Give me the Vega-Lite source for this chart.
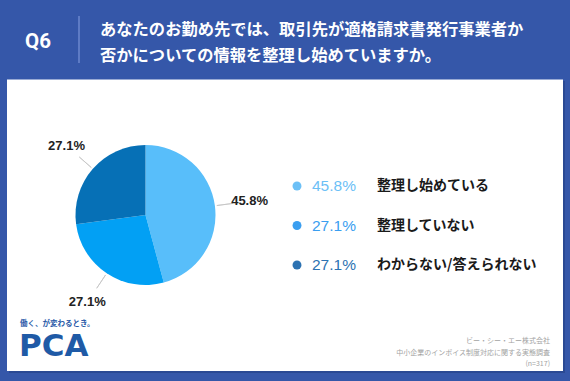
{
  "$schema": "https://vega.github.io/schema/vega-lite/v6.json",
  "width": 570,
  "height": 381,
  "autosize": {"type": "fit", "contains": "padding"},
  "padding": 0,
  "background": "#3557a9",
  "config": {"view": {"stroke": null}, "axis": {"disable": true}, "legend": {"disable": true}},
  "datasets": {
    "answers": [
      {"category": "整理し始めている", "value": 0.458},
      {"category": "整理していない", "value": 0.271},
      {"category": "わからない/答えられない", "value": 0.271}
    ],
    "one": [{}]
  },
  "data": {"name": "answers"},
  "transform": [{"window": [{"op": "row_number", "as": "idx"}]}],
  "resolve": {"scale": {"y": "independent", "color": "independent"}},
  "layer": [
    {
      "data": {"name": "one"},
      "mark": {"type": "rect", "color": "#2a4993"},
      "encoding": {
        "x": {"datum": 9, "type": "quantitative", "scale": {"domain": [0, 570], "nice": false, "zero": false}},
        "x2": {"datum": 565},
        "y": {"datum": 81, "type": "quantitative", "scale": {"domain": [0, 381], "nice": false, "zero": false, "reverse": true}},
        "y2": {"datum": 373}
      }
    },
    {
      "data": {"name": "one"},
      "mark": {"type": "rect", "color": "#ffffff"},
      "encoding": {
        "x": {"datum": 7, "type": "quantitative", "scale": {"domain": [0, 570], "nice": false, "zero": false}},
        "x2": {"datum": 563},
        "y": {"datum": 79.5, "type": "quantitative", "scale": {"domain": [0, 381], "nice": false, "zero": false, "reverse": true}},
        "y2": {"datum": 371}
      }
    },
    {
      "data": {"name": "one"},
      "mark": {"type": "rule", "color": "#7590d4", "strokeWidth": 1.3},
      "encoding": {
        "x": {"datum": 79, "type": "quantitative", "scale": {"domain": [0, 570], "nice": false, "zero": false}},
        "y": {"datum": 16, "type": "quantitative", "scale": {"domain": [0, 381], "nice": false, "zero": false, "reverse": true}},
        "y2": {"datum": 63}
      }
    },
    {
      "data": {"name": "one"},
      "mark": {"type": "text", "text": "Q6", "font": "Roboto", "fontSize": 20.5, "fontWeight": "bold", "color": "#ffffff", "align": "left", "baseline": "middle"},
      "encoding": {
        "x": {"datum": 25, "type": "quantitative", "scale": {"domain": [0, 570], "nice": false, "zero": false}},
        "y": {"datum": 42, "type": "quantitative", "scale": {"domain": [0, 381], "nice": false, "zero": false, "reverse": true}}
      }
    },
    {
      "data": {"name": "one"},
      "mark": {"type": "text", "text": ["あなたのお勤め先では、取引先が適格請求書発行事業者か", "否かについての情報を整理し始めていますか。"], "font": "Noto Sans CJK JP", "fontSize": 16.3, "fontWeight": "bold", "lineHeight": 26, "color": "#ffffff", "align": "left", "baseline": "alphabetic"},
      "encoding": {
        "x": {"datum": 100, "type": "quantitative", "scale": {"domain": [0, 570], "nice": false, "zero": false}},
        "y": {"datum": 35, "type": "quantitative", "scale": {"domain": [0, 381], "nice": false, "zero": false, "reverse": true}}
      }
    },
    {
      "mark": {"type": "arc", "radius": 70},
      "encoding": {
        "theta": {"field": "value", "type": "quantitative", "stack": true},
        "color": {"field": "category", "type": "nominal", "scale": {"domain": ["整理し始めている", "整理していない", "わからない/答えられない"], "range": ["#58befa", "#02a0f4", "#0670b6"]}},
        "order": {"field": "idx", "type": "quantitative"},
        "x": {"datum": 145.5, "type": "quantitative", "scale": {"domain": [0, 570], "nice": false, "zero": false}},
        "y": {"datum": 215, "type": "quantitative", "scale": {"domain": [0, 381], "nice": false, "zero": false, "reverse": true}}
      }
    },
    {
      "mark": {"type": "arc", "radius": 88, "radius2": 72, "padAngle": 3, "fillOpacity": 0, "stroke": "#c4c4c4", "strokeWidth": 0.8},
      "encoding": {
        "theta": {"field": "value", "type": "quantitative", "stack": true},
        "detail": {"field": "category", "type": "nominal"},
        "order": {"field": "idx", "type": "quantitative"},
        "x": {"datum": 145.5, "type": "quantitative", "scale": {"domain": [0, 570], "nice": false, "zero": false}},
        "y": {"datum": 215, "type": "quantitative", "scale": {"domain": [0, 381], "nice": false, "zero": false, "reverse": true}}
      }
    },
    {
      "mark": {"type": "text", "radius": 105, "font": "Liberation Sans", "fontSize": 13, "fontWeight": "bold", "color": "#222222", "align": "center", "baseline": "middle"},
      "encoding": {
        "theta": {"field": "value", "type": "quantitative", "stack": true},
        "detail": {"field": "category", "type": "nominal"},
        "order": {"field": "idx", "type": "quantitative"},
        "text": {"field": "value", "type": "quantitative", "format": ".1%"},
        "x": {"datum": 145.5, "type": "quantitative", "scale": {"domain": [0, 570], "nice": false, "zero": false}},
        "y": {"datum": 215, "type": "quantitative", "scale": {"domain": [0, 381], "nice": false, "zero": false, "reverse": true}}
      }
    },
    {
      "mark": {"type": "point", "shape": "circle", "filled": true, "size": 80, "opacity": 1},
      "encoding": {
        "x": {"datum": 297, "type": "quantitative", "scale": {"domain": [0, 570], "nice": false, "zero": false}},
        "y": {"field": "category", "type": "nominal", "sort": null, "scale": {"type": "point", "domain": ["整理し始めている", "整理していない", "わからない/答えられない"], "range": [186, 265], "padding": 0}},
        "color": {"field": "category", "type": "nominal", "scale": {"domain": ["整理し始めている", "整理していない", "わからない/答えられない"], "range": ["#6cc0f6", "#3a9ef0", "#2c72b2"]}}
      }
    },
    {
      "mark": {"type": "text", "font": "Liberation Sans", "fontSize": 15.5, "align": "left", "baseline": "middle"},
      "encoding": {
        "x": {"datum": 312, "type": "quantitative", "scale": {"domain": [0, 570], "nice": false, "zero": false}},
        "y": {"field": "category", "type": "nominal", "sort": null, "scale": {"type": "point", "domain": ["整理し始めている", "整理していない", "わからない/答えられない"], "range": [186, 265], "padding": 0}},
        "text": {"field": "value", "type": "quantitative", "format": ".1%"},
        "color": {"field": "category", "type": "nominal", "scale": {"domain": ["整理し始めている", "整理していない", "わからない/答えられない"], "range": ["#6cc0f6", "#3a9ef0", "#2c72b2"]}}
      }
    },
    {
      "mark": {"type": "text", "font": "Noto Sans CJK JP", "fontSize": 14, "fontWeight": "bold", "color": "#1a1a1a", "align": "left", "baseline": "middle"},
      "encoding": {
        "x": {"datum": 377, "type": "quantitative", "scale": {"domain": [0, 570], "nice": false, "zero": false}},
        "y": {"field": "category", "type": "nominal", "sort": null, "scale": {"type": "point", "domain": ["整理し始めている", "整理していない", "わからない/答えられない"], "range": [186, 265], "padding": 0}},
        "text": {"field": "category", "type": "nominal"}
      }
    },
    {
      "data": {"name": "one"},
      "mark": {"type": "text", "text": "働く、が変わるとき。", "font": "Noto Sans CJK JP", "fontSize": 7.5, "fontWeight": "bold", "color": "#2a5aa8", "align": "left", "baseline": "middle"},
      "encoding": {
        "x": {"datum": 20, "type": "quantitative", "scale": {"domain": [0, 570], "nice": false, "zero": false}},
        "y": {"datum": 324, "type": "quantitative", "scale": {"domain": [0, 381], "nice": false, "zero": false, "reverse": true}}
      }
    },
    {
      "data": {"name": "one"},
      "mark": {"type": "text", "text": "PCA", "font": "DejaVu Sans", "fontSize": 31, "fontWeight": "bold", "color": "#1f5aa6", "align": "left", "baseline": "alphabetic"},
      "encoding": {
        "x": {"datum": 19, "type": "quantitative", "scale": {"domain": [0, 570], "nice": false, "zero": false}},
        "y": {"datum": 356, "type": "quantitative", "scale": {"domain": [0, 381], "nice": false, "zero": false, "reverse": true}}
      }
    },
    {
      "data": {"name": "one"},
      "mark": {"type": "text", "text": ["ビー・シー・エー株式会社", "中小企業のインボイス制度対応に関する実態調査", "(n=317)"], "font": "Noto Sans CJK JP", "fontSize": 7, "lineHeight": 11.5, "color": "#a3a3a3", "align": "right", "baseline": "middle"},
      "encoding": {
        "x": {"datum": 550, "type": "quantitative", "scale": {"domain": [0, 570], "nice": false, "zero": false}},
        "y": {"datum": 341, "type": "quantitative", "scale": {"domain": [0, 381], "nice": false, "zero": false, "reverse": true}}
      }
    }
  ]
}
